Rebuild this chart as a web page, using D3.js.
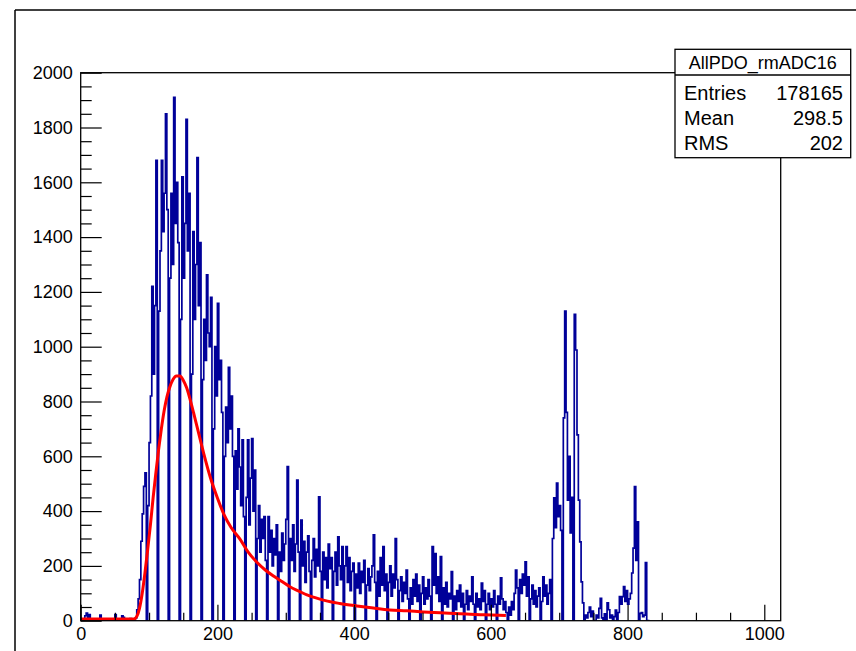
<!DOCTYPE html>
<html>
<head>
<meta charset="utf-8">
<script src="https://cdn.jsdelivr.net/npm/d3@7"></script>
<style>
  body { margin: 0; background: #fff; }
  text { font-family: "Liberation Sans", Arial, Helvetica, sans-serif; }
</style>
</head>
<body>
<svg id="chart" width="856" height="651"></svg>
<script>
// histogram bins, 2 ADC counts wide
const binWidth = 2;

// 0 - 94
const lowCounts = [
  0, 0, 0, 18, 28, 10, 22, 0,
  0, 0, 0, 0, 0, 0, 20, 0,
  0, 0, 0, 6, 0, 0, 0, 0,
  0, 22, 0, 0, 0, 0, 18, 12,
  0, 0, 0, 0, 8, 0, 0, 0,
  10, 40, 80, 150, 290, 390, 490, 540
];
// 96 - 254
const peakCounts = [
  0, 420, 650, 820, 1220, 900, 1150, 1680,
  0, 1130, 1350, 1680, 1420, 1560, 1850, 1500,
  0, 1250, 1560, 1300, 1910, 1450, 1600, 1380,
  0, 1100, 1620, 1250, 1450, 1830, 1350, 1560,
  0, 900, 1420, 1100, 1300, 1690, 1150, 1380,
  0, 880, 1100, 950, 1262, 1050, 1000, 1180,
  0, 700, 1000, 820, 1158, 880, 950, 760,
  0, 600, 780, 650, 925, 700, 820, 600,
  0, 620, 480, 700, 561, 420, 660, 380,
  0, 450, 660, 350, 520, 665, 400, 550
];
// 256 - 510
const tailCounts = [
  0, 300, 420, 250, 370, 300, 380, 220,
  0, 380, 250, 330, 200, 300, 240, 350,
  0, 250, 180, 320, 220, 280, 370, 562,
  0, 300, 220, 350, 180, 280, 513, 250,
  0, 367, 200, 290, 140, 250, 310, 180,
  0, 220, 300, 160, 260, 200, 452, 180,
  0, 250, 150, 230, 120, 280, 190, 230,
  0, 180, 250, 130, 306, 200, 150, 270,
  0, 200, 270, 140, 230, 110, 180, 210,
  0, 170, 120, 210, 100, 180, 140, 220,
  0, 130, 190, 110, 160, 200, 313, 140,
  0, 180, 90, 230, 130, 270, 110, 170,
  0, 140, 200, 90, 170, 120, 300, 150,
  0, 110, 160, 70, 140, 100, 185, 80,
  0, 120, 60, 150, 90, 170, 70, 130,
  0, 100, 160, 60, 120, 80, 150, 90
];
// 512 - 686
const plateauCounts = [
  0, 270, 130, 245, 100, 160, 70, 234,
  0, 120, 60, 140, 50, 100, 80, 179,
  0, 90, 40, 110, 70, 130, 50, 100,
  0, 60, 110, 40, 90, 70, 160, 60,
  0, 100, 50, 80, 40, 137, 70, 110,
  0, 60, 100, 40, 80, 50, 110, 60,
  0, 90, 60, 156, 80, 40, 70, 30,
  0, 50, 20, 70, 40, 100, 185, 120,
  0, 150, 100, 170, 130, 215, 90, 160,
  0, 80, 130, 60, 110, 50, 90, 120,
  0, 70, 160, 90, 130, 60, 100, 150
];
// 688 - 830
const bumpCounts = [
  0, 300, 448, 340, 502, 380, 420, 330,
  0, 740, 1130, 760, 440, 600, 320, 450,
  0, 1118, 988, 678, 440, 288, 142, 65,
  0, 20, 10, 30, 50, 15, 35, 0,
  0, 20, 10, 45, 82, 10, 0, 25,
  0, 65, 40, 10, 20, 0, 15, 39,
  0, 30, 88, 60, 88, 124, 70, 110,
  60, 80, 100, 174, 265, 489, 220, 361,
  0, 27, 30, 15, 20, 212, 0, 0
];

// red fit curve
const fitX = [0, 78, 82, 86, 90, 94, 98, 102, 106, 110, 114, 118, 122, 126, 130, 135, 140, 145,
  150, 155, 160, 165, 170, 180, 190, 200, 210, 220, 233, 245, 257, 270, 282, 295, 306, 320,
  331, 343, 355, 367, 379, 404, 428, 452, 477, 501, 526, 555, 590, 622];
const fitY = [6, 6, 15, 45, 100, 175, 260, 350, 450, 540, 625, 700, 765, 815, 850, 880, 893, 893,
  878, 850, 808, 760, 710, 610, 520, 448, 385, 340, 298, 250, 215, 185, 163, 142, 124, 107,
  94, 84, 75, 68, 63, 54, 46, 39, 36, 32, 29, 25, 22, 19];

const xTickValues = [0, 200, 400, 600, 800, 1000];
const yTickValues = [0, 200, 400, 600, 800, 1000, 1200, 1400, 1600, 1800, 2000];

const statsTitle = "AllPDO_rmADC16";
const statsNames = ["Entries", "Mean", "RMS"];
const statsValues = ["178165", "298.5", "202"];

const svg = d3.select("#chart");
const counts = [].concat(lowCounts, peakCounts, tailCounts, plateauCounts, bumpCounts);

let x = d3.scaleLinear().domain([0, 1024]).range([80.7, 780.7]);
let y = d3.scaleLinear().domain([0, 2000]).range([620.7, 72.7]);

// outer canvas edge (top + left only visible)
svg.append("line").attr("x1", 15).attr("y1", 10).attr("x2", 856).attr("y2", 10)
  .attr("stroke", "#000").attr("stroke-width", 1.5);
svg.append("line").attr("x1", 15).attr("y1", 10).attr("x2", 15).attr("y2", 651)
  .attr("stroke", "#000").attr("stroke-width", 1.5);

svg.append("clipPath").attr("id", "frameClip")
  .append("rect").attr("x", x(0)).attr("y", y(2000))
  .attr("width", x(1024) - x(0)).attr("height", y(0) - y(2000));

// histogram as a step outline
let pts = [[0, 0]];
counts.forEach(function(c, i) { pts.push([i * binWidth, c]); });
pts.push([counts.length * binWidth, 0]);

let step = d3.line()
  .x(function(d) { return x(d[0]); })
  .y(function(d) { return y(d[1]); })
  .curve(d3.curveStepAfter);

svg.append("path")
  .attr("d", step(pts))
  .attr("clip-path", "url(#frameClip)")
  .attr("fill", "none")
  .attr("stroke", "#000099")
  .attr("stroke-width", 1.7);

// fit
let fitLine = d3.line()
  .x(function(d, i) { return x(fitX[i]); })
  .y(function(d) { return y(d); })
  .curve(d3.curveMonotoneX);

svg.append("path")
  .attr("d", fitLine(fitY))
  .attr("fill", "none")
  .attr("stroke", "#ff0000")
  .attr("stroke-width", 3);

// frame
svg.append("rect")
  .attr("x", x(0)).attr("y", y(2000))
  .attr("width", x(1024) - x(0)).attr("height", y(0) - y(2000))
  .attr("fill", "none").attr("stroke", "#000").attr("stroke-width", 1.3);

// axes: minor and major ticks in separate groups, ticks point inward
let xMinor = d3.range(0, 1025, 50).filter(function(v) { return v % 200 !== 0; });
let yMinor = d3.range(0, 2001, 50).filter(function(v) { return v % 200 !== 0; });
let fmt = d3.format("d");

let gxMinor = svg.append("g").attr("transform", "translate(0," + y(0) + ")")
  .call(d3.axisBottom(x).tickValues(xMinor).tickSize(-8).tickFormat(""));
let gx = svg.append("g").attr("transform", "translate(0," + y(0) + ")")
  .call(d3.axisBottom(x).tickValues(xTickValues).tickSize(-16).tickPadding(7).tickFormat(fmt));

let gyMinor = svg.append("g").attr("transform", "translate(" + x(0) + ",0)")
  .call(d3.axisLeft(y).tickValues(yMinor).tickSize(-11).tickFormat(""));
let gy = svg.append("g").attr("transform", "translate(" + x(0) + ",0)")
  .call(d3.axisLeft(y).tickValues(yTickValues).tickSize(-21).tickPadding(8).tickFormat(fmt));

[gxMinor, gx, gyMinor, gy].forEach(function(g) {
  g.select(".domain").remove();
  g.attr("font-size", 18).attr("font-family", "'Liberation Sans', Arial, sans-serif");
  g.selectAll("line").attr("stroke", "#000").attr("stroke-width", 1.2);
  g.selectAll("text").attr("fill", "#000");
});

// stats box
let box = svg.append("g");
box.append("rect").attr("x", 675).attr("y", 49.3).attr("width", 175.7).attr("height", 108.4)
  .attr("fill", "#fff").attr("stroke", "#000").attr("stroke-width", 1.3);
box.append("line").attr("x1", 675).attr("x2", 850.7).attr("y1", 75).attr("y2", 75)
  .attr("stroke", "#000").attr("stroke-width", 1.3);
box.append("text").attr("x", 762.8).attr("y", 68.5).attr("text-anchor", "middle")
  .attr("font-size", 18).text(statsTitle);

let rowY = [99.5, 124.5, 150];
statsNames.forEach(function(name, i) {
  box.append("text").attr("x", 684).attr("y", rowY[i]).attr("font-size", 20).text(name);
  box.append("text").attr("x", 843).attr("y", rowY[i]).attr("text-anchor", "end")
    .attr("font-size", 20).text(statsValues[i]);
});
</script>
</body>
</html>
